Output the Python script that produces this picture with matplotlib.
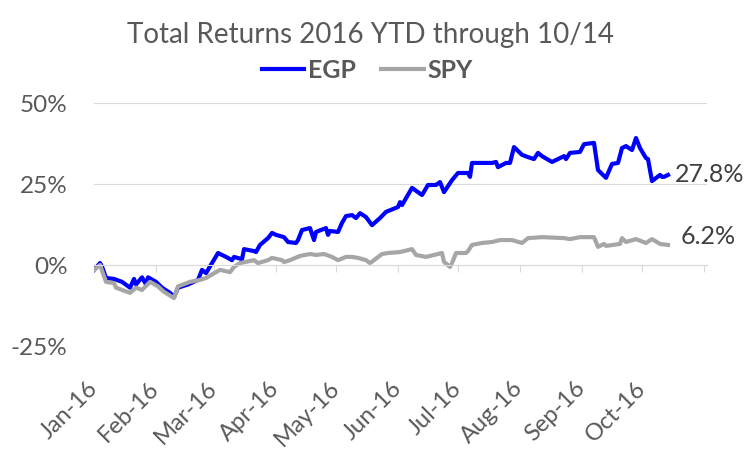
import pandas as pd
import matplotlib
matplotlib.use("Agg")
import matplotlib.pyplot as plt
import matplotlib.dates as mdates
from matplotlib.ticker import FuncFormatter

plt.rcParams['font.family'] = ['Lato', 'DejaVu Sans']

# total return, %
egp_dates = ['01-01', '01-04', '01-05', '01-07', '01-11', '01-15', '01-19', '01-21', '01-22', '01-25',
             '01-27', '01-28', '02-01', '02-04', '02-08', '02-10', '02-12', '02-17', '02-22', '02-24',
             '02-26', '03-03', '03-07', '03-10', '03-11', '03-15', '03-16', '03-21', '03-22', '03-24',
             '03-28', '03-30', '04-01', '04-05', '04-07', '04-11', '04-12', '04-14', '04-18', '04-20',
             '04-21', '04-26', '04-27', '04-28', '05-02', '05-04', '05-06', '05-09', '05-11', '05-13',
             '05-16', '05-19', '05-23', '05-26', '06-01', '06-02', '06-03', '06-08', '06-13', '06-16',
             '06-20', '06-22', '06-24', '06-28', '07-01', '07-06', '07-07', '07-08', '07-12', '07-18',
             '07-20', '07-21', '07-25', '07-27', '07-29', '08-02', '08-05', '08-08', '08-10', '08-12',
             '08-17', '08-23', '08-24', '08-26', '08-31', '09-02', '09-07', '09-09', '09-13', '09-16',
             '09-19', '09-21', '09-23', '09-26', '09-28', '09-30', '10-03', '10-04', '10-06', '10-10',
             '10-11', '10-12', '10-14']
egp_ret = [-1.5, 0.6, -0.5, -4.0, -4.3, -5.2, -7.0, -4.3, -6.0, -3.8,
           -6.0, -3.8, -5.2, -7.0, -8.6, -9.9, -7.0, -6.0, -4.6, -1.5,
           -2.5, 3.7, 2.5, 1.5, 2.5, 1.8, 4.9, 4.3, 4.0, 6.2,
           8.3, 9.9, 9.3, 8.6, 7.1, 6.8, 7.7, 10.8, 11.4, 7.7,
           10.2, 11.4, 9.3, 10.5, 10.2, 13.0, 15.1, 15.4, 14.5, 16.0,
           14.8, 12.3, 14.5, 16.4, 17.9, 19.4, 18.5, 23.8, 21.6, 24.7,
           24.7, 25.6, 22.5, 26.2, 28.4, 28.4, 27.2, 31.5, 31.5, 31.5,
           31.8, 30.2, 31.5, 31.5, 36.4, 34.0, 33.3, 32.7, 34.6, 33.6,
           31.8, 33.6, 32.7, 34.6, 34.9, 37.3, 37.7, 29.3, 26.9, 31.2,
           31.5, 36.1, 36.7, 35.5, 39.2, 36.1, 33.0, 32.7, 25.9, 27.8,
           27.2, 27.2, 27.8]

spy_dates = ['01-01', '01-04', '01-07', '01-11', '01-12', '01-15', '01-19', '01-22', '01-25', '01-29',
             '02-02', '02-05', '02-10', '02-12', '02-18', '02-23', '02-26', '03-04', '03-09', '03-11',
             '03-14', '03-21', '03-23', '03-28', '03-30', '04-04', '04-05', '04-08', '04-13', '04-18',
             '04-21', '04-25', '04-29', '05-02', '05-06', '05-09', '05-12', '05-16', '05-18', '05-20',
             '05-24', '05-27', '06-02', '06-08', '06-10', '06-15', '06-17', '06-21', '06-23', '06-24',
             '06-27', '06-28', '06-30', '07-05', '07-06', '07-08', '07-13', '07-18', '07-22', '07-28',
             '08-02', '08-05', '08-12', '08-23', '08-26', '08-31', '09-07', '09-09', '09-12', '09-13',
             '09-20', '09-21', '09-23', '09-28', '10-03', '10-06', '10-10', '10-14']
spy_ret = [-1.5, 0.0, -5.2, -5.6, -7.0, -7.7, -8.6, -7.0, -7.7, -5.2,
           -6.6, -8.3, -10.2, -6.6, -5.2, -4.6, -4.0, -1.5, -2.2, -0.6,
           0.6, 1.5, 0.6, 1.5, 2.2, 1.5, 0.9, 1.5, 2.8, 3.4,
           3.1, 3.4, 2.5, 1.5, 2.5, 2.5, 2.2, 1.5, 0.6, 1.5,
           3.4, 3.7, 4.0, 4.9, 3.1, 2.5, 2.8, 3.4, 3.7, 1.0,
           -0.6, 0.6, 3.7, 3.7, 4.3, 6.2, 6.8, 7.1, 7.7, 7.7,
           6.8, 8.3, 8.6, 8.3, 8.0, 8.6, 8.6, 5.6, 6.5, 5.9,
           6.5, 8.3, 7.1, 8.0, 6.8, 8.0, 6.5, 6.2]

egp_end = '27.8%'
spy_end = '6.2%'
title = 'Total Returns 2016 YTD through 10/14'

egp_x = pd.to_datetime(['2016-' + d for d in egp_dates])
spy_x = pd.to_datetime(['2016-' + d for d in spy_dates])

grid_c = '#d9d9d9'
text_c = '#595959'

fig = plt.figure(figsize=(7.51, 4.51), dpi=100)
ax = fig.add_axes([0.1252, 0.2328, 0.8162, 0.5388])

ax.plot(egp_x, egp_ret, color='#0000ff', lw=3.0, label='EGP', solid_joinstyle='round')
ax.plot(spy_x, spy_ret, color='#a6a6a6', lw=3.0, label='SPY', solid_joinstyle='round')

ax.set_ylim(-25, 50)
ax.set_yticks([-25, 0, 25, 50])
ax.yaxis.set_major_formatter(FuncFormatter(lambda v, p: '{:.0f}%'.format(v)))
ax.tick_params(axis='y', length=0, pad=19, labelsize=17.5, labelcolor=text_c)
ax.grid(axis='y', color=grid_c, lw=0.8)
ax.set_axisbelow(True)

ax.set_xlim(pd.Timestamp('2016-01-01'), pd.Timestamp('2016-11-02 12:00'))
month_ticks = pd.date_range('2016-01-01', '2016-11-01', freq='MS')
ax.set_xticks(month_ticks)
ax.tick_params(axis='x', length=5, width=0.8, color=grid_c, labelbottom=False)

for s in ['top', 'right', 'left']:
    ax.spines[s].set_visible(False)
ax.spines['bottom'].set_position(('data', 0))
ax.spines['bottom'].set_color(grid_c)
ax.spines['bottom'].set_linewidth(0.8)

# month labels sit below the plot, not on the 0% line
sec = ax.secondary_xaxis('bottom')
sec.set_xticks(month_ticks[:-1])
sec.xaxis.set_major_formatter(mdates.DateFormatter('%b-%y'))
sec.tick_params(length=0, pad=28, labelsize=17, labelcolor=text_c)
sec.spines['bottom'].set_visible(False)
for lab in sec.get_xticklabels():
    lab.set_rotation(45)
    lab.set_ha('right')
    lab.set_va('center')
    lab.set_rotation_mode('anchor')

ax.annotate(egp_end, xy=(egp_x[-1], egp_ret[-1]), xytext=(5, 0), textcoords='offset points',
            va='center', ha='left', fontsize=18, color='#404040')
ax.annotate(spy_end, xy=(spy_x[-1], spy_ret[-1]), xytext=(9, 6), textcoords='offset points',
            va='center', ha='left', fontsize=18, color='#404040')

fig.text(0.494, 1 - 35 / 451, title, ha='center', va='center', fontsize=20, color=text_c)
fig.legend(loc='center', bbox_to_anchor=(0.489, 1 - 70 / 451), ncol=2, frameon=False,
           prop={'weight': 'bold', 'size': 18}, labelcolor=text_c,
           handlelength=1.7, handletextpad=0.15, columnspacing=1.0)

fig.savefig('out.png', dpi=100)
